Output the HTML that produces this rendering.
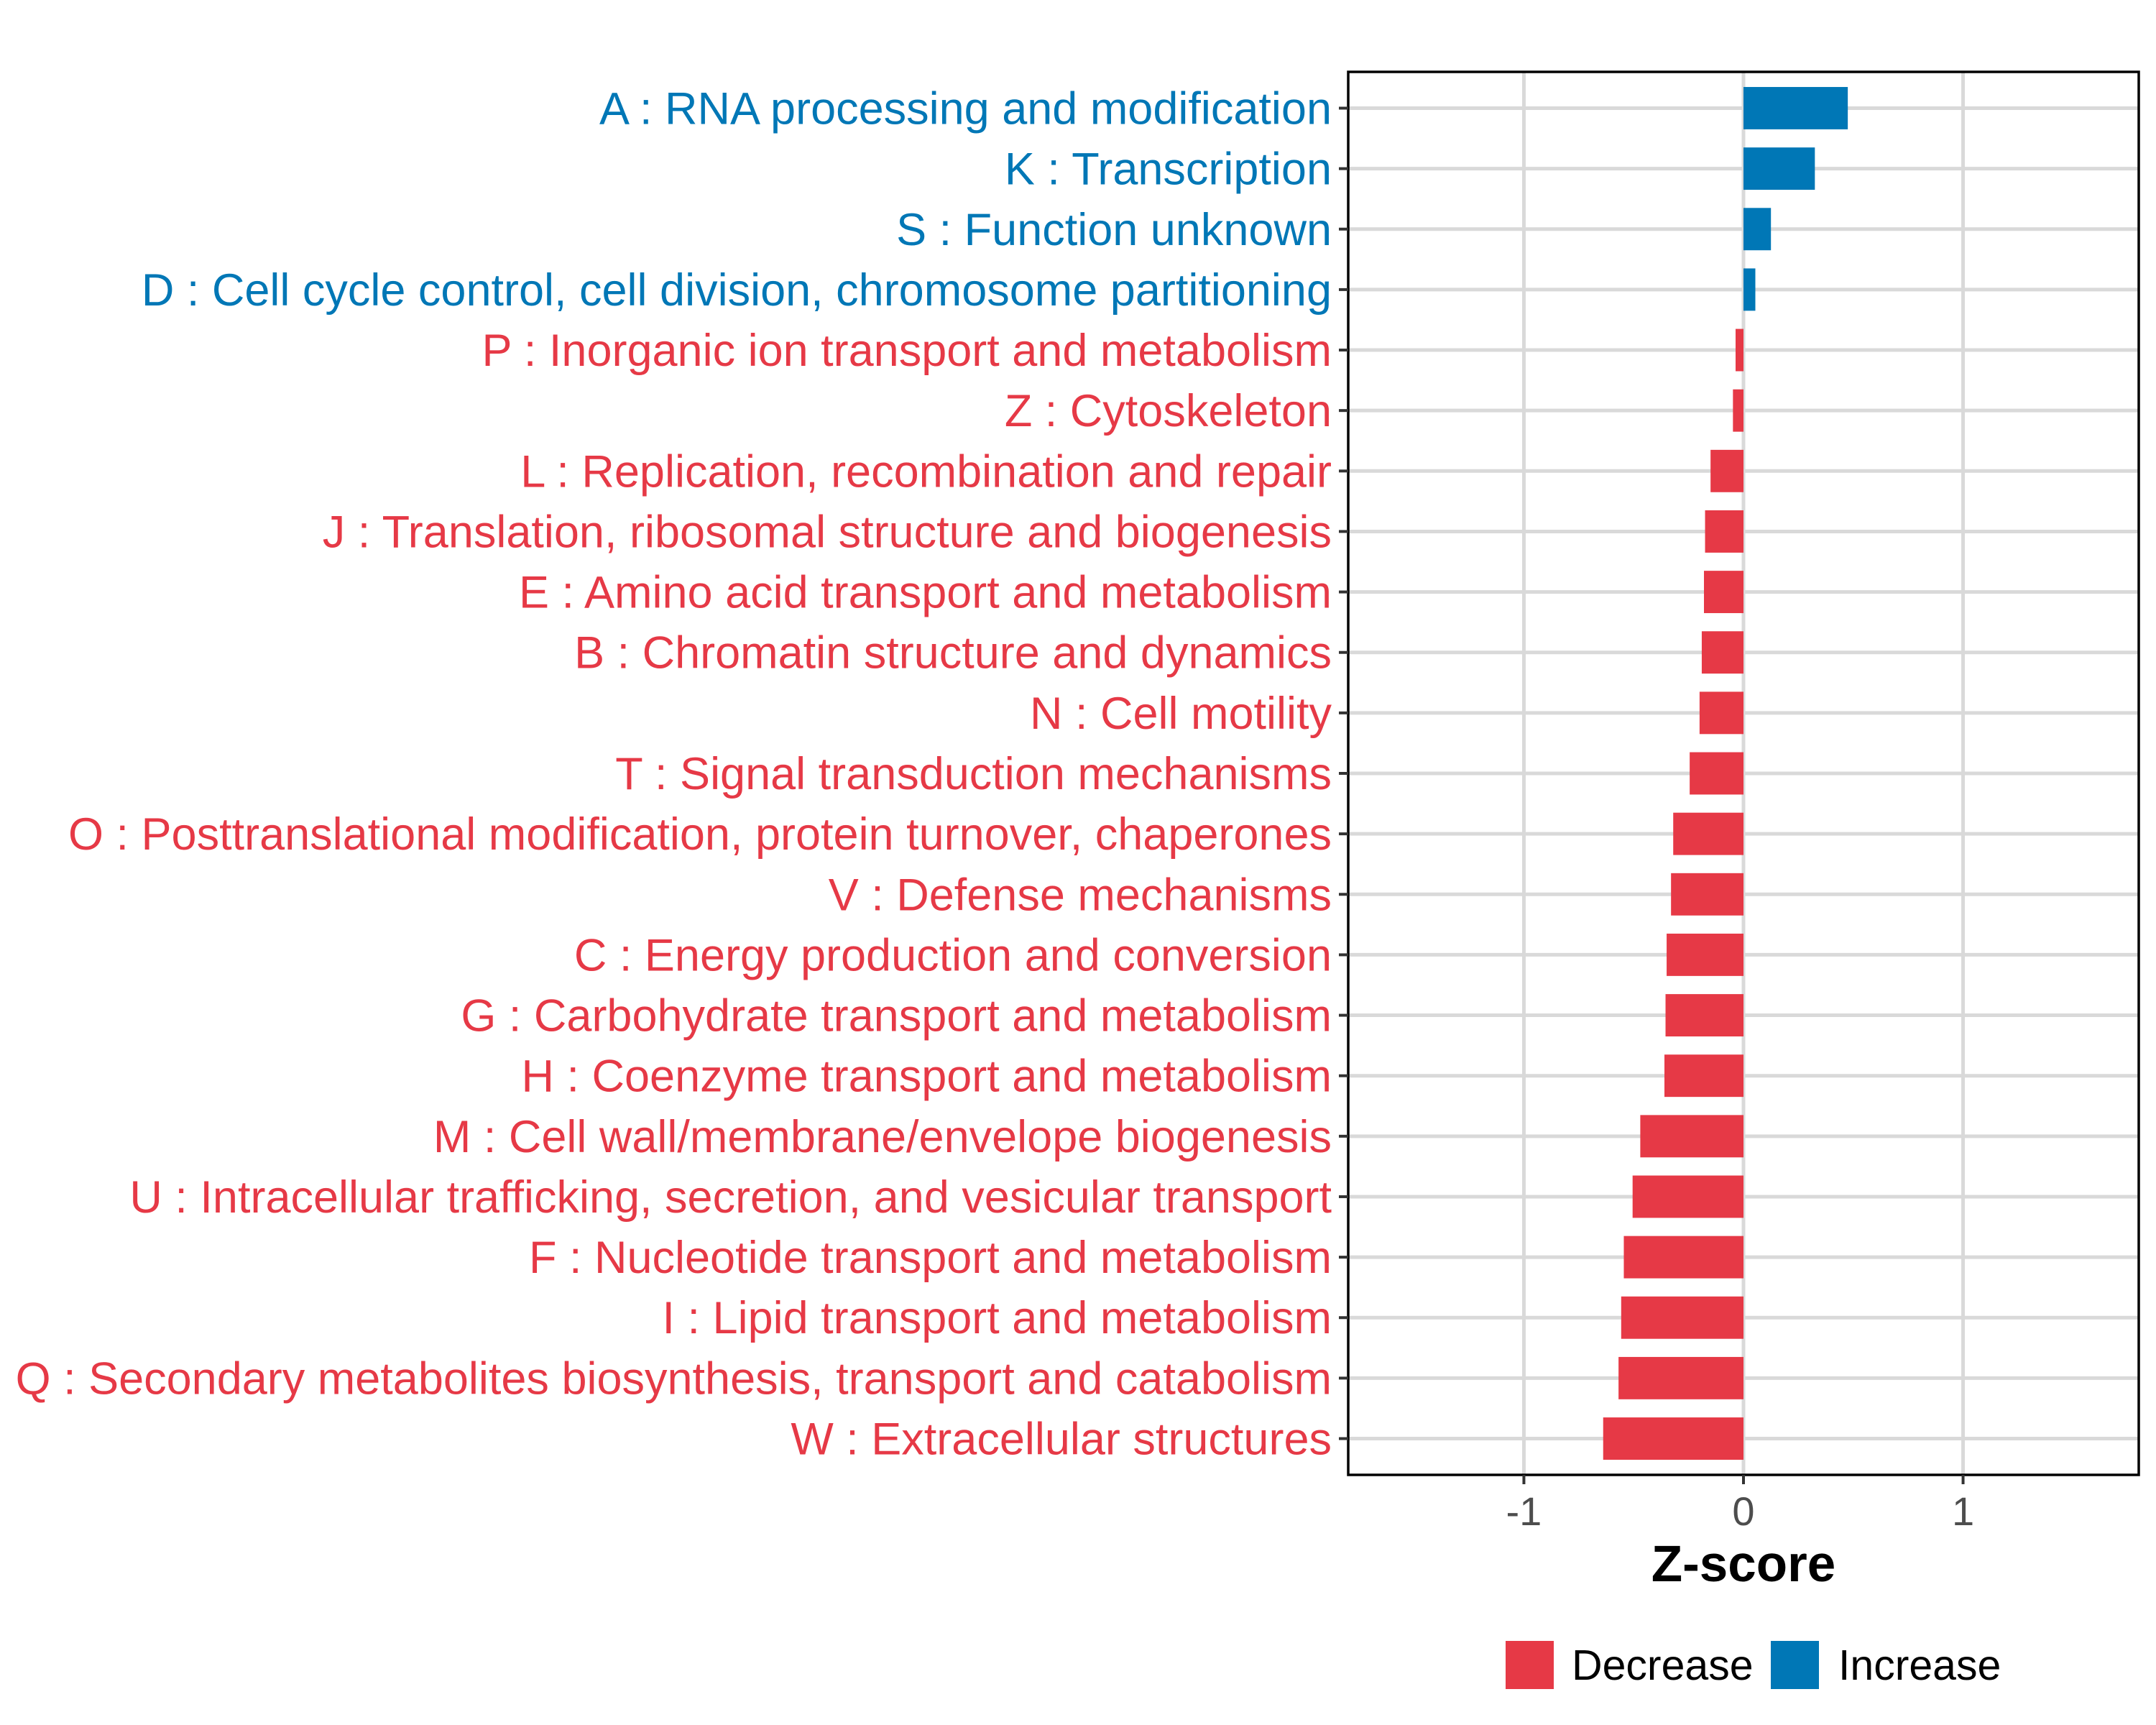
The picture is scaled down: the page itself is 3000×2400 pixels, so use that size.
<!DOCTYPE html>
<html><head><meta charset="utf-8"><style>
html,body{margin:0;padding:0;background:#fff;}
svg{display:block;font-family:"Liberation Sans",Arial,sans-serif;}
</style></head><body>
<svg id="chart" width="3000" height="2400" viewBox="0 0 3000 2400" xmlns="http://www.w3.org/2000/svg">
<rect width="3000" height="2400" fill="#fff"/>
<g id="grid"></g>
<g id="bars"></g>
<rect x="1876" y="100" width="1100" height="1952" fill="none" stroke="#000" stroke-width="3.5"/>
<g id="ylabels"></g>
<g id="xaxis"></g>
<text x="2426" y="2200" text-anchor="middle" font-size="71" font-weight="bold" fill="#000">Z-score</text>
<g>
<rect x="2095" y="2283" width="67" height="67" fill="#E63946"/>
<text x="2187" y="2337" font-size="59" fill="#000">Decrease</text>
<rect x="2464" y="2283" width="67" height="67" fill="#0077B6"/>
<text x="2558" y="2337" font-size="59" fill="#000">Increase</text>
</g>
</svg>
<script>
const categories = [
"A : RNA processing and modification",
"K : Transcription",
"S : Function unknown",
"D : Cell cycle control, cell division, chromosome partitioning",
"P : Inorganic ion transport and metabolism",
"Z : Cytoskeleton",
"L : Replication, recombination and repair",
"J : Translation, ribosomal structure and biogenesis",
"E : Amino acid transport and metabolism",
"B : Chromatin structure and dynamics",
"N : Cell motility",
"T : Signal transduction mechanisms",
"O : Posttranslational modification, protein turnover, chaperones",
"V : Defense mechanisms",
"C : Energy production and conversion",
"G : Carbohydrate transport and metabolism",
"H : Coenzyme transport and metabolism",
"M : Cell wall/membrane/envelope biogenesis",
"U : Intracellular trafficking, secretion, and vesicular transport",
"F : Nucleotide transport and metabolism",
"I : Lipid transport and metabolism",
"Q : Secondary metabolites biosynthesis, transport and catabolism",
"W : Extracellular structures"
];
const zscores = [0.475,0.325,0.125,0.054,-0.036,-0.048,-0.15,-0.175,-0.18,-0.19,-0.20,-0.245,-0.32,-0.33,-0.35,-0.355,-0.36,-0.47,-0.505,-0.545,-0.557,-0.569,-0.639];
const xTicks = [-1,0,1];
const xTickLabels = ["-1","0","1"];

const NS="http://www.w3.org/2000/svg";
const panelL=1876, panelR=2976, panelT=100, panelB=2052;
const xMin=-1.8, xMax=1.8;
function xScale(v){return panelL+(v-xMin)/(xMax-xMin)*(panelR-panelL);}
const step=(panelB-panelT)/(categories.length-1+1.2);
function yScale(i){return panelT+0.6*step+i*step;}
const RED="#E63946", BLUE="#0077B6";
function mk(tag,attrs,parent){const e=document.createElementNS(NS,tag);for(const k in attrs)e.setAttribute(k,attrs[k]);parent.appendChild(e);return e;}
const grid=document.getElementById('grid'),bars=document.getElementById('bars'),yl=document.getElementById('ylabels'),xa=document.getElementById('xaxis');
xTicks.forEach((t,i)=>{
  const x=xScale(t);
  const g=mk('line',{x1:x,x2:x,y1:panelT,y2:panelB,stroke:'#d9d9d9','stroke-width':5},grid);
  
  
  const tk=mk('line',{x1:x,x2:x,y1:panelB,y2:panelB+13,stroke:'#333','stroke-width':4},xa);
  
  
  const tl=mk('text',{x:x,y:panelB+70,'text-anchor':'middle','font-size':56,fill:'#4d4d4d'},xa);
  tl.textContent=xTickLabels[i];
  
  
});
categories.forEach((c,i)=>{
  const y=yScale(i);
  const gl=mk('line',{x1:panelL,x2:panelR,y1:y,y2:y,stroke:'#d9d9d9','stroke-width':5},grid);
  
  
  const v=zscores[i];
  const x0=xScale(0),x1=xScale(v);
  const h=step*0.7;
  const b=mk('rect',{x:Math.min(x0,x1),y:y-h/2,width:Math.abs(x1-x0),height:h,fill:v>=0?BLUE:RED},bars);
  
  
  const tk=mk('line',{x1:panelL-13,x2:panelL,y1:y,y2:y,stroke:'#333','stroke-width':4},yl);
  
  
  const t=mk('text',{x:1853,y:y+22,'text-anchor':'end','font-size':63,fill:v>=0?BLUE:RED},yl);
  t.textContent=c;
  
  
});
</script>
</body></html>
